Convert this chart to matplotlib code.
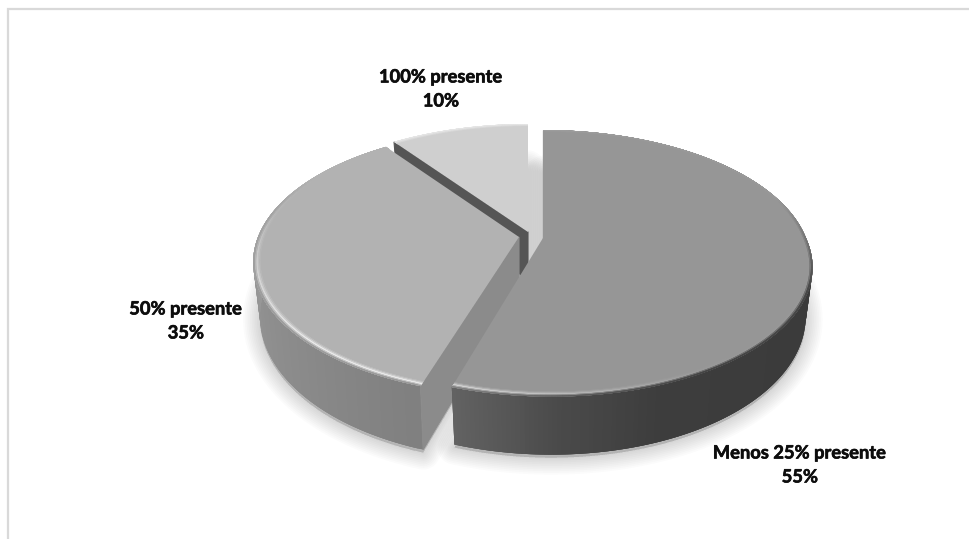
import numpy as np
import matplotlib
matplotlib.use("Agg")
import matplotlib.pyplot as plt
import matplotlib.patheffects as pe
from matplotlib.collections import PolyCollection
from matplotlib.colors import to_rgb
from matplotlib.patches import Polygon

# Chart content
categories = ["Menos 25% presente", "50% presente", "100% presente"]
shares = [55, 35, 10]
top_colors = ["#969696", "#b2b2b2", "#cfcfcf"]
radial_wall_colors = ["#6e6e6e", "#8b8b8b", "#555555"]

# Pie geometry in pixel-like axes units, one entry per slice
apexes = [(543, 238), (519, 237), (528, 232)]
radius_x = [263.0, 261.0, 263.0]
depths = [47.0, 52.0, 48.0]
front_skew = [8.4, 0.0, 0.0]
RY, PERSP, BASE_SHRINK = 128.5, 0.19, 0.026

# Shading along the rim, keyed by clockwise angle from twelve o'clock
rim_angles = [[0, 120, 160, 178, 198], [198, 225, 250, 275, 324], [324, 360]]
rim_grays = [[0.23, 0.23, 0.24, 0.29, 0.39], [0.50, 0.54, 0.57, 0.62, 0.62], [0.6, 0.6]]
# Bevel highlight and outer colour on the top face edge
bevel_angles = [[0, 70, 90, 110, 150, 175, 198], [198, 225, 250, 280, 300, 324], [324, 360]]
bevel_light = [[0.60, 0.59, 0.59, 0.59, 0.60, 0.72, 0.84], [0.92, 0.92, 0.84, 0.72, 0.70, 0.70], [0.86, 0.86]]
bevel_outer = [[0.62, 0.60, 0.46, 0.28, 0.27, 0.36, 0.52], [0.60, 0.62, 0.62, 0.64, 0.70, 0.70], [0.90, 0.90]]


def project(i, theta_deg, radius=1.0, z=0.0):
    t = np.radians(theta_deg)
    xx, yy = radius * np.sin(t), radius * np.cos(t)
    s = 1.0 / (1.0 + PERSP * yy)
    x = apexes[i][0] + radius_x[i] * xx * s * (1 - BASE_SHRINK * z)
    x = x + front_skew[i] * np.maximum(0.0, -yy)
    y = apexes[i][1] - RY * yy * s + depths[i] * z * s
    return x, y


def wedge_outline(i, a0, a1, z=0.0, radius=1.0):
    th = np.linspace(a0, a1, 200)
    x, y = project(i, th, radius, z)
    ax0, ay0 = project(i, 0.0, 0.0, z)
    return np.column_stack([np.r_[ax0, x], np.r_[ay0, y]])


fig = plt.figure(figsize=(9.70, 5.39), dpi=100, facecolor="white")
ax = fig.add_axes([0, 0, 1, 1])
ax.set_xlim(0, 970)
ax.set_ylim(539, 0)
ax.axis("off")

# Chart frame: only top and left edges are visible
ax.plot([8, 8, 970], [539, 9, 9], color="#d9d9d9", lw=1.6, solid_joinstyle="miter", zorder=1)

bounds = np.r_[0, np.cumsum(shares)] / np.sum(shares) * 360.0
spans = list(zip(bounds[:-1], bounds[1:]))

# Soft cast shadow built from stacked translucent outlines
for i, (a0, a1) in enumerate(spans):
    base = wedge_outline(i, a0, a1, z=1.0) + np.array([0, 3])
    for lw in np.arange(2, 26, 2.5):
        ax.add_patch(Polygon(base, closed=True, fc="black", ec="black", lw=lw,
                             alpha=0.014, joinstyle="round", zorder=2))


def band_collection(quads, cols, zorder):
    # Opaque strips painted in sequence; each overlaps the next to hide seams
    ax.add_collection(PolyCollection(quads, facecolors=cols, edgecolors="none", zorder=zorder))


def shaded_rim(i, a0, a1, zorder):
    th = np.linspace(a0, a1, 240)
    g = np.interp(th, rim_angles[i], rim_grays[i])
    x0, y0 = project(i, th, 1.0, 0.0)
    x1, y1 = project(i, th, 1.0, 1.0)
    n = len(th)
    quads = [[(x0[j], y0[j]), (x0[min(j + 3, n - 1)], y0[min(j + 3, n - 1)]),
              (x1[min(j + 3, n - 1)], y1[min(j + 3, n - 1)]), (x1[j], y1[j])] for j in range(n - 1)]
    band_collection(quads, [(v, v, v) for v in g[:-1]], zorder)


def radial_wall(i, angle, zorder):
    top = project(i, angle, 1.0, 0.0)
    low = project(i, angle, 1.0, 1.0)
    inner_top = project(i, angle, 0.0, 0.0)
    inner_low = project(i, angle, 0.0, 1.0)
    ax.add_patch(Polygon([inner_top, top, low, inner_low], closed=True, fc=radial_wall_colors[i],
                         ec=radial_wall_colors[i], lw=0.8, zorder=zorder))


def top_face(i, a0, a1, zorder):
    ax.add_patch(Polygon(wedge_outline(i, a0, a1), closed=True, fc=top_colors[i], ec="none", zorder=zorder))
    # Bevel: concentric bands from the face colour through the highlight to the outer edge
    base = to_rgb(top_colors[i])[0]
    th = np.linspace(a0, a1, 200)
    light = np.interp(th, bevel_angles[i], bevel_light[i])
    outer = np.interp(th, bevel_angles[i], bevel_outer[i])
    radii = np.linspace(0.968, 1.0, 7)
    n = len(th)
    for k in range(len(radii) - 1):
        t = k / (len(radii) - 2)
        if t < 0.6:
            v = base + (light - base) * (t / 0.6) ** 1.5
        else:
            v = light + (outer - light) * ((t - 0.6) / 0.4)
        x0, y0 = project(i, th, radii[k])
        x1, y1 = project(i, th, 1.0 if k == len(radii) - 2 else radii[k + 2])
        quads = [[(x0[j], y0[j]), (x0[min(j + 3, n - 1)], y0[min(j + 3, n - 1)]),
                  (x1[min(j + 3, n - 1)], y1[min(j + 3, n - 1)]), (x1[j], y1[j])] for j in range(n - 1)]
        band_collection(quads, [(c, c, c) for c in v[:-1]], zorder + 0.01 * (k + 1))


# Paint back to front: small slice, then left slice, then large slice
a0, a1 = spans[2]
radial_wall(2, a0, 3)
top_face(2, a0, a1, 3.5)

a0, a1 = spans[1]
shaded_rim(1, a0, a1, 4)
radial_wall(1, a0, 4.2)
top_face(1, a0, a1, 4.5)

a0, a1 = spans[0]
radial_wall(0, a0, 5)
shaded_rim(0, a0, a1, 5.1)
top_face(0, a0, a1, 5.5)

# Data labels
label_xy = [(800, 465), (186, 321), (441, 89)]
font = dict(family="Lato", weight="bold", size=13.2, color="#0d0d0d", ha="center", va="center",
            linespacing=1.5, zorder=10)
for name, share, (lx, ly) in zip(categories, shares, label_xy):
    txt = ax.text(lx, ly, f"{name}\n{share}%", **font)
    txt.set_path_effects([pe.withStroke(linewidth=0.45, foreground="#0d0d0d")])

fig.savefig("out.png", dpi=100, facecolor="white")
